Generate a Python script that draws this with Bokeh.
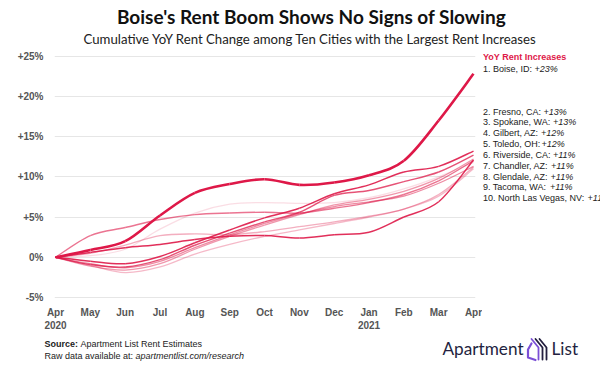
from bokeh.plotting import figure
from bokeh.layouts import column, row
from bokeh.models import FixedTicker, ColumnDataSource
from bokeh.core.properties import value
from bokeh.embed import file_html
from bokeh.resources import INLINE

# ---------------- data ----------------
months = list(range(13))
month_labels = ["Apr\n2020", "May", "Jun", "Jul", "Aug", "Sep", "Oct", "Nov",
                "Dec", "Jan\n2021", "Feb", "Mar", "Apr"]
y_ticks = [-5, 0, 5, 10, 15, 20, 25]
y_tick_labels = ["-5%", "0%", "+5%", "+10%", "+15%", "+20%", "+25%"]

cities = ["Boise, ID", "Fresno, CA", "Spokane, WA", "Gilbert, AZ", "Toledo, OH",
          "Riverside, CA", "Chandler, AZ", "Glendale, AZ", "Tacoma, WA",
          "North Las Vegas, NV"]
end_changes = ["+23%", "+13%", "+13%", "+12%", "+12%", "+11%", "+11%", "+11%",
               "+11%", "+11%"]
label_seps = [": ", ": ", ": ", ": ", ":", ": ", ": ", ": ", ": ", ": "]

boise     = [0, 0.9, 2.0, 5.2, 8.0, 9.1, 9.7, 9.0, 9.3, 10.2, 12.0, 17.0, 22.8]
fresno    = [0, -0.5, -0.8, 0.1, 1.8, 3.4, 4.9, 6.1, 7.9, 9.0, 10.6, 11.3, 13.2]
spokane   = [0, -0.9, -1.2, -0.3, 1.5, 3.0, 4.4, 5.6, 7.7, 8.3, 9.4, 10.6, 12.7]
gilbert   = [0, 2.7, 3.7, 4.7, 5.3, 5.5, 5.6, 5.5, 6.1, 6.8, 7.8, 9.5, 12.0]
toledo    = [0, -1.1, -1.6, -0.8, 1.0, 2.6, 4.0, 5.3, 6.5, 7.2, 8.2, 9.8, 12.2]
riverside = [0, 0.2, 1.0, 3.5, 5.5, 6.6, 6.8, 6.7, 6.8, 7.4, 8.5, 10.0, 11.8]
chandler  = [0, -0.8, -1.3, -0.5, 1.2, 2.8, 4.2, 5.4, 6.3, 6.9, 7.6, 9.2, 11.3]
glendale  = [0, 0.6, 1.2, 1.6, 2.2, 2.6, 2.7, 2.4, 2.8, 3.1, 5.0, 6.9, 12.1]
tacoma    = [0, 0.5, 1.5, 2.7, 2.9, 2.8, 3.2, 3.8, 4.4, 5.1, 6.0, 7.8, 11.2]
nlv       = [0, -1.0, -1.9, -1.2, 0.4, 1.6, 2.6, 3.4, 4.2, 5.0, 6.0, 7.6, 11.0]

series = [boise, fresno, spokane, gilbert, toledo, riverside, chandler,
          glendale, tacoma, nlv]

title_text = "Boise's Rent Boom Shows No Signs of Slowing"
subtitle_text = ("Cumulative YoY Rent Change among Ten Cities with the Largest "
                 "Rent Increases")
legend_title = "YoY Rent Increases"
source_bold, source_rest = "Source:", "Apartment List Rent Estimates"
raw_plain, raw_link = "Raw data available at: ", "apartmentlist.com/research"

# ---------------- style ----------------
RED = "#de1848"
GRAY = "#555555"
INK = "#222222"
NAVY = "#231f3f"
PURPLE = "#7b4fd6"
FONT = "Liberation Sans"
alphas = [1.0, 0.9, 0.75, 0.6, 0.45, 0.15, 0.5, 0.9, 0.35, 0.3]
widths = [2.6, 1.5, 1.4, 1.4, 1.3, 1.3, 1.3, 1.5, 1.3, 1.3]

W_MAIN, W_LEG = 482, 118
H_TOP, H_MAIN, H_FOOT = 50, 283, 40
FRAME_H = 250


def blank(w, h, x0, y0, border_bottom=0, frame_h=None):
    fh = h - border_bottom if frame_h is None else frame_h
    f = figure(width=w, height=h, output_backend="svg", toolbar_location=None,
               x_range=(x0, x0 + w), y_range=(y0 + fh, y0),
               x_axis_type=None, y_axis_type=None, outline_line_color=None,
               min_border=0, min_border_left=0, min_border_right=0,
               min_border_top=0, min_border_bottom=border_bottom)
    f.xgrid.visible = False
    f.ygrid.visible = False
    return f


# ---------------- main chart ----------------
p = figure(width=W_MAIN, height=H_MAIN, output_backend="svg", toolbar_location=None,
           x_range=(-0.029, 12.057), y_range=(-5.37, 25.7),
           min_border_left=54, min_border_right=W_MAIN - 475, min_border_top=0,
           min_border_bottom=H_MAIN - FRAME_H, outline_line_color=None,
           background_fill_color="white", border_fill_color="white")

p.xgrid.grid_line_color = None
p.ygrid.grid_line_color = "#e6e6e6"
p.ygrid.grid_line_width = 1

p.xaxis.ticker = FixedTicker(ticks=months)
p.xaxis.major_label_overrides = {m: lab for m, lab in zip(months, month_labels)}
p.yaxis.ticker = FixedTicker(ticks=y_ticks)
p.ygrid.ticker = FixedTicker(ticks=y_ticks)
p.yaxis.major_label_overrides = {t: lab for t, lab in zip(y_ticks, y_tick_labels)}

for ax in (p.xaxis, p.yaxis):
    ax.axis_line_color = None
    ax.major_tick_line_color = None
    ax.minor_tick_line_color = None
    ax.major_tick_out = 0
    ax.major_tick_in = 0
    ax.major_label_text_font = FONT
    ax.major_label_text_font_style = "bold"
    ax.major_label_text_font_size = "10px"
    ax.major_label_text_color = GRAY
p.yaxis.major_label_standoff = 11
p.xaxis.major_label_standoff = 6


def bezier_source(xs, ys):
    n = len(xs)
    d = dict(x0=[], y0=[], x1=[], y1=[], cx0=[], cy0=[], cx1=[], cy1=[])
    for i in range(n - 1):
        xm, ym = (xs[i - 1], ys[i - 1]) if i > 0 else (xs[i], ys[i])
        xp, yp = (xs[i + 2], ys[i + 2]) if i + 2 < n else (xs[i + 1], ys[i + 1])
        d["x0"].append(xs[i]); d["y0"].append(ys[i])
        d["x1"].append(xs[i + 1]); d["y1"].append(ys[i + 1])
        d["cx0"].append(xs[i] + (xs[i + 1] - xm) / 6)
        d["cy0"].append(ys[i] + (ys[i + 1] - ym) / 6)
        d["cx1"].append(xs[i + 1] - (xp - xs[i]) / 6)
        d["cy1"].append(ys[i + 1] - (yp - ys[i]) / 6)
    return ColumnDataSource(d)


order = list(range(1, len(series))) + [0]
for k in order:
    p.bezier(x0="x0", y0="y0", x1="x1", y1="y1", cx0="cx0", cy0="cy0",
             cx1="cx1", cy1="cy1", source=bezier_source(months, series[k]),
             line_color=RED, line_alpha=alphas[k], line_width=widths[k])

# Arial / Liberation Sans advance widths (per 1000 em)
AW = {" ": 278, ".": 278, ",": 278, ":": 278, "+": 584, "%": 889, "/": 278,
      "A": 667, "B": 667, "C": 722, "D": 722, "E": 667, "F": 611, "G": 778,
      "H": 722, "I": 278, "L": 556, "N": 722, "O": 778, "R": 722, "S": 667,
      "T": 611, "V": 667, "W": 944, "Y": 667, "Z": 611,
      "a": 556, "b": 556, "c": 500, "d": 556, "e": 556, "f": 278, "g": 556,
      "h": 556, "i": 222, "k": 500, "l": 222, "m": 833, "n": 556, "o": 556,
      "p": 556, "r": 333, "s": 500, "t": 278, "u": 556, "v": 500, "w": 722,
      "y": 500}
AW_BOLD = {"S": 667, "o": 611, "u": 611, "r": 389, "c": 556, "e": 556, ":": 333,
           " ": 278}


def tw(s, size, table=AW):
    return sum(table.get(c, 556) for c in s) / 1000.0 * size


def txt(f, xs, ys, texts, size, style="normal", color=INK, align="left",
        font=FONT):
    f.text(x=xs, y=ys, text=texts, text_font=value(font),
           text_font_size=f"{size}px", text_font_style=style,
           text_color=color, text_align=align, text_baseline="middle")


# ---------------- title block ----------------
top = blank(600, H_TOP, 0, 0)
txt(top, [311], [15.5], [title_text], 19, "bold", "#111111", "center", "Lato")
txt(top, [310], [38], [subtitle_text], 13.2, "normal", INK, "center", "Lato")

# ---------------- legend block (frame aligned with the chart frame) ----------
leg = blank(W_LEG, H_MAIN, W_MAIN, H_TOP, border_bottom=H_MAIN - FRAME_H)
LX = 482.5
legend_y = [68.3, 111, 121.7, 132.7, 143.3, 154.3, 165.3, 176, 186.7, 197.3]
txt(leg, [LX], [56.7], [legend_title], 9, "bold", RED)
prefixes = [f"{i + 1}. {c}{s}" for i, (c, s) in enumerate(zip(cities, label_seps))]
txt(leg, [LX] * len(prefixes), legend_y, prefixes, 9, "normal", INK)
txt(leg, [LX + tw(pf, 9) for pf in prefixes], legend_y, end_changes, 9,
    "italic", INK)

# ---------------- footer block ----------------
foot = blank(600, H_FOOT, 0, H_TOP + H_MAIN)
txt(foot, [44], [343.5], [source_bold], 9, "bold", INK)
txt(foot, [44 + tw(source_bold + " ", 9, AW_BOLD)], [343.5], [source_rest], 9,
    "normal", INK)
txt(foot, [44], [355.5], [raw_plain], 9, "normal", INK)
txt(foot, [44 + tw(raw_plain, 9)], [355.5], [raw_link], 9, "italic", INK)

# logo wordmark + simple mark
txt(foot, [442], [348], ["Apartment"], 17.2, "normal", NAVY, "left", "Lato")
txt(foot, [551], [348], ["List"], 17.2, "normal", NAVY, "left", "Lato")
foot.line(x=[531, 527.5, 527.5, 535], y=[343, 349, 357, 359.5],
          line_color=PURPLE, line_width=2.2, line_cap="round", line_join="round")
for dx in (0, 4, 8):
    foot.line(x=[531 + dx, 538 + dx, 538 + dx], y=[338.5, 347, 359],
              line_color=NAVY if dx else PURPLE, line_width=1.8,
              line_cap="round", line_join="round")

layout = column(top, row(p, leg), foot)
open("out.html", "w").write(file_html(layout, INLINE))
